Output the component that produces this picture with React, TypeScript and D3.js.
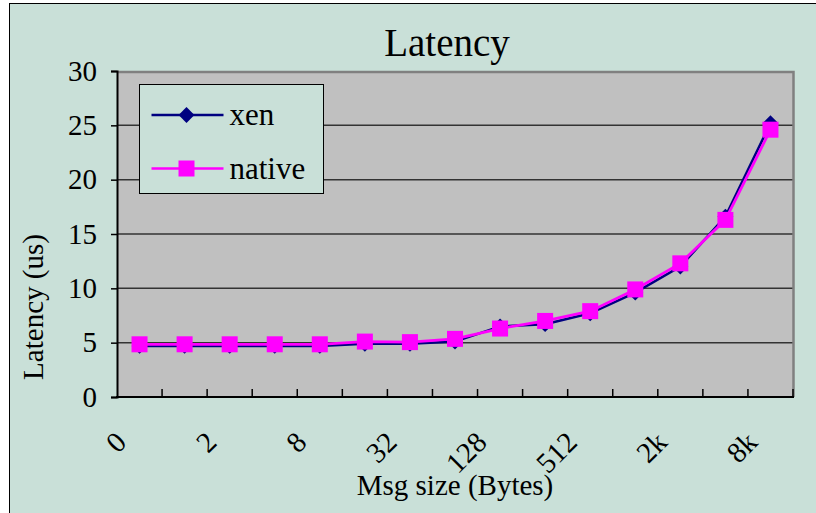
// Latency chart: xen vs native, Excel-style line chart
import { useEffect, useRef } from 'react';
import * as d3 from 'd3';

// Message sizes on the x axis
const categories = ['0', '1', '2', '4', '8', '16', '32', '64', '128', '256', '512', '1k', '2k', '4k', '8k'];

// Latency values (us)
const xenValues = [4.7, 4.7, 4.7, 4.7, 4.7, 4.9, 4.9, 5.1, 6.5, 6.7, 7.7, 9.6, 12.0, 16.6, 25.2];
const nativeValues = [4.85, 4.85, 4.85, 4.85, 4.85, 5.1, 5.05, 5.35, 6.3, 7.0, 7.9, 9.9, 12.3, 16.3, 24.6];

// Only every other category gets a label
const xTickLabels = ['0', '2', '8', '32', '128', '512', '2k', '8k'];
const yTicks = [0, 5, 10, 15, 20, 25, 30];

const App = () => {
  const svgRef = useRef<SVGSVGElement | null>(null);

  useEffect(() => {
    const width = 816;
    const height = 513;
    const marginLeft = 117;
    const marginRight = 23;
    const marginTop = 71;
    const marginBottom = 116;
    const font = '"Liberation Serif", "Times New Roman", serif';
    const bg = '#c9e0d8';
    const sq = 16; // native marker size

    const x = d3.scaleBand()
      .domain(categories)
      .range([marginLeft, width - marginRight]);

    const y = d3.scaleLinear()
      .domain([0, 30])
      .range([height - marginBottom, marginTop]);

    const svg = d3.select(svgRef.current)
      .attr('width', width)
      .attr('height', height)
      .style('font-family', font);

    svg.selectAll('*').remove();

    // chart background with its thin black frame
    svg.append('rect').attr('width', width).attr('height', height).attr('fill', '#fff');
    svg.append('rect')
      .attr('x', 9.5).attr('y', 3.5)
      .attr('width', width + 10).attr('height', height + 10)
      .attr('fill', bg).attr('stroke', '#000').attr('stroke-width', 1);

    // plot area
    const [x0, x1] = x.range();
    const [yb, yt] = y.range();
    svg.append('rect')
      .attr('x', x0).attr('y', yt)
      .attr('width', x1 - x0).attr('height', yb - yt)
      .attr('fill', '#c0c0c0');

    // gridlines
    svg.append('g')
      .selectAll('line')
      .data(yTicks.filter(d => d > 0 && d < 30))
      .join('line')
      .attr('x1', x0).attr('x2', x1)
      .attr('y1', d => y(d)).attr('y2', d => y(d))
      .attr('stroke', '#333').attr('stroke-width', 1.5);

    // gray top/right border of plot
    svg.append('path')
      .attr('d', `M${x0},${yt + 1}H${x1 + 0.5}V${yb}`)
      .attr('fill', 'none').attr('stroke', '#808080').attr('stroke-width', 2.5);

    // y axis
    const yAxis = svg.append('g')
      .attr('transform', `translate(${x0},0)`)
      .call(d3.axisLeft(y).tickValues(yTicks).tickSize(6).tickPadding(14));
    yAxis.select('.domain').attr('stroke', '#000').attr('stroke-width', 2);
    yAxis.selectAll('line').attr('stroke', '#000').attr('stroke-width', 1.5);
    yAxis.selectAll('text')
      .attr('fill', '#000')
      .style('font-size', '29px')
      .style('font-family', font);

    // x axis: inner ticks at category boundaries
    const bounds = categories.map(c => x(c) as number).concat([x1]);
    svg.append('g')
      .selectAll('line')
      .data(bounds.slice(1))
      .join('line')
      .attr('x1', d => d).attr('x2', d => d)
      .attr('y1', yb).attr('y2', yb - 8)
      .attr('stroke', '#000').attr('stroke-width', 1.5);
    svg.append('line')
      .attr('x1', x0 - 1).attr('x2', x1 + 1)
      .attr('y1', yb).attr('y2', yb)
      .attr('stroke', '#000').attr('stroke-width', 2);

    // rotated x labels
    svg.append('g')
      .selectAll('text')
      .data(xTickLabels)
      .join('text')
      .attr('transform', d => `translate(${(x(d) as number) + x.bandwidth() / 2 - 11.5},${yb + 47}) rotate(-45)`)
      .attr('text-anchor', 'end')
      .style('font-size', '29px')
      .text(d => d);

    // series
    const cx = (i: number) => (x(categories[i]) as number) + x.bandwidth() / 2;
    const line = d3.line<number>().x((d, i) => cx(i)).y(d => y(d));

    svg.append('path')
      .attr('d', line(xenValues))
      .attr('fill', 'none').attr('stroke', '#000080').attr('stroke-width', 2.5);
    svg.append('g')
      .selectAll('path')
      .data(xenValues)
      .join('path')
      .attr('d', d3.symbol(d3.symbolDiamond2, 160)() as string)
      .attr('transform', (d, i) => `translate(${cx(i)},${y(d)})`)
      .attr('fill', '#000080');

    svg.append('path')
      .attr('d', line(nativeValues))
      .attr('fill', 'none').attr('stroke', '#ff00ff').attr('stroke-width', 2.8);
    svg.append('g')
      .selectAll('rect')
      .data(nativeValues)
      .join('rect')
      .attr('x', (d, i) => cx(i) - sq / 2).attr('y', d => y(d) - sq / 2)
      .attr('width', sq).attr('height', sq)
      .attr('fill', '#ff00ff');

    // legend
    const legend = svg.append('g').attr('transform', 'translate(139.5,84.5)');
    legend.append('rect')
      .attr('width', 184).attr('height', 109)
      .attr('fill', bg).attr('stroke', '#000').attr('stroke-width', 1);
    const entries = [
      { name: 'xen', color: '#000080', yy: 30.5 },
      { name: 'native', color: '#ff00ff', yy: 84 },
    ];
    entries.forEach((e, i) => {
      legend.append('line')
        .attr('x1', 12).attr('x2', 84)
        .attr('y1', e.yy).attr('y2', e.yy)
        .attr('stroke', e.color).attr('stroke-width', 2.5);
      if (i === 0) {
        legend.append('path')
          .attr('d', d3.symbol(d3.symbolDiamond2, 160)() as string)
          .attr('transform', `translate(47,${e.yy})`)
          .attr('fill', e.color);
      } else {
        legend.append('rect')
          .attr('x', 47 - sq / 2).attr('y', e.yy - sq / 2)
          .attr('width', sq).attr('height', sq)
          .attr('fill', e.color);
      }
      legend.append('text')
        .attr('x', 90).attr('y', e.yy + 10)
        .style('font-size', '31px')
        .text(e.name);
    });

    // titles
    svg.append('text')
      .attr('x', 447).attr('y', 56)
      .attr('text-anchor', 'middle')
      .style('font-size', '39px')
      .text('Latency');

    svg.append('text')
      .attr('x', (x0 + x1) / 2).attr('y', 495)
      .attr('text-anchor', 'middle')
      .style('font-size', '29px')
      .text('Msg size (Bytes)');

    svg.append('text')
      .attr('transform', 'translate(43,307) rotate(-90)')
      .attr('text-anchor', 'middle')
      .style('font-size', '29px')
      .text('Latency (us)');
  }, []);

  return (
    <div style={{ position: 'absolute', left: 0, top: 0 }}>
      <svg ref={svgRef}></svg>
    </div>
  );
};

export default App;
